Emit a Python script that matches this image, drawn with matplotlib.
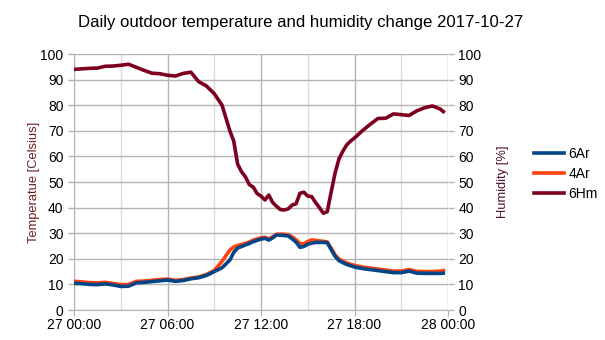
import matplotlib
matplotlib.use("Agg")
import matplotlib.pyplot as plt
import matplotlib.dates as mdates
import pandas as pd

plt.rcParams['font.family'] = ['Liberation Sans', 'DejaVu Sans']

times = ["00:00", "00:30", "01:00", "01:30", "02:00", "02:30", "03:00", "03:30",
         "04:00", "04:30", "05:00", "05:30", "06:00", "06:30", "07:00", "07:30",
         "08:00", "08:30", "09:00", "09:30", "10:00", "10:15", "10:30", "10:45",
         "11:00", "11:15", "11:30", "11:45", "12:00", "12:15", "12:30", "12:45",
         "13:00", "13:15", "13:30", "13:45", "14:00", "14:15", "14:30", "14:45",
         "15:00", "15:15", "15:30", "15:45", "16:00", "16:15", "16:30", "16:45",
         "17:00", "17:15", "17:30", "17:45", "18:00", "18:30", "19:00", "19:30",
         "20:00", "20:30", "21:00", "21:30", "22:00", "22:30", "23:00", "23:30", "23:42"]

t6ar = [10.4, 10.3, 10.0, 9.9, 10.2, 9.8, 9.2, 9.3,
        10.6, 10.8, 11.1, 11.4, 11.7, 11.2, 11.5, 12.2,
        12.6, 13.5, 15.0, 16.5, 19.5, 22.5, 24.2, 24.8,
        25.4, 26.0, 26.7, 27.2, 27.7, 28.0, 27.3, 28.2,
        29.3, 29.2, 29.1, 28.9, 27.8, 26.5, 24.5, 24.8,
        25.7, 26.1, 26.4, 26.4, 26.4, 26.3, 23.6, 21.0,
        19.3, 18.5, 17.8, 17.3, 16.8, 16.2, 15.8, 15.4,
        15.0, 14.6, 14.6, 15.2, 14.4, 14.3, 14.3, 14.3, 14.4]

t4ar = [11.2, 11.0, 10.7, 10.6, 10.8, 10.4, 9.9, 10.0,
        11.2, 11.3, 11.6, 11.9, 12.1, 11.6, 11.9, 12.5,
        12.9, 13.9, 15.4, 19.0, 23.4, 24.6, 25.2, 25.6,
        26.0, 26.6, 27.3, 27.8, 28.2, 28.4, 27.8, 28.6,
        29.6, 29.6, 29.6, 29.4, 28.6, 27.5, 26.0, 25.8,
        26.8, 27.4, 27.2, 27.0, 26.8, 26.6, 24.2, 21.6,
        19.9, 19.1, 18.4, 17.9, 17.4, 16.8, 16.4, 16.0,
        15.6, 15.2, 15.2, 15.8, 15.1, 15.0, 15.0, 15.2, 15.4]

h6hm = [94.0, 94.2, 94.4, 94.5, 95.2, 95.3, 95.6, 96.0,
        94.8, 93.6, 92.5, 92.3, 91.7, 91.4, 92.4, 92.9,
        89.2, 87.5, 84.5, 80.0, 70.0, 66.0, 57.0, 54.0,
        52.0, 49.0, 48.0, 45.5, 44.5, 43.0, 44.9, 42.0,
        40.5, 39.2, 39.1, 39.5, 41.0, 41.5, 45.6, 46.0,
        44.5, 44.3, 42.0, 40.0, 37.8, 38.4, 46.0, 53.4,
        59.0, 62.0, 64.5, 66.0, 67.2, 70.0, 72.5, 74.8,
        74.9, 76.6, 76.3, 76.0, 77.8, 79.0, 79.7, 78.5, 77.5]

x_ticks = ["2017-10-27 00:00", "2017-10-27 06:00", "2017-10-27 12:00",
           "2017-10-27 18:00", "2017-10-28 00:00"]
minor_ticks = ["2017-10-27 03:00", "2017-10-27 09:00", "2017-10-27 15:00",
               "2017-10-27 21:00"]

dt = pd.to_datetime(["2017-10-27 " + s for s in times])
xt = pd.to_datetime(x_ticks)
xm = pd.to_datetime(minor_ticks)

fig = plt.figure(figsize=(6.05, 3.40), dpi=100)
ax = fig.add_axes([74/605, 30/340, 374/605, 256/340])
ax2 = ax.twinx()

ax.plot(dt, t4ar, color='#ff420e', lw=2.6, label='4Ar', zorder=3)
ax.plot(dt, t6ar, color='#004586', lw=2.6, label='6Ar', zorder=4)
ax2.plot(dt, h6hm, color='#7e0021', lw=2.6, label='6Hm')

for a in (ax, ax2):
    a.set_ylim(0, 100)
    a.set_yticks(range(0, 101, 10))
    a.tick_params(axis='y', labelsize=10, length=4, color='#b3b3b3', width=1)
    for s in a.spines.values():
        s.set_visible(False)
ax.spines['left'].set_visible(True)
ax.spines['left'].set_color('#b3b3b3')
ax.spines['bottom'].set_visible(True)
ax.spines['bottom'].set_color('#b3b3b3')

ax.set_xlim(xt[0], xt[-1])
ax.set_xticks(xt)
ax.set_xticks(xm, minor=True)
ax.xaxis.set_major_formatter(mdates.DateFormatter('%d %H:%M'))
ax.tick_params(axis='x', labelsize=10, length=4, color='#b3b3b3', pad=2)
ax.tick_params(axis='x', which='minor', length=0)
ax.grid(True, which='major', color='#b3b3b3', lw=1)
ax.grid(True, which='minor', axis='x', color='#dddddd', lw=1)
ax.set_axisbelow(True)

lbl_color = '#6b1f1f'
ax.set_ylabel('Temperatue [Celsius]', fontsize=9.3, color=lbl_color, labelpad=0)
ax2.set_ylabel('Humidity [%]', fontsize=9.3, color='#4a1030', rotation=90, labelpad=11)

fig.suptitle('Daily outdoor temperature and humidity change 2017-10-27',
             fontsize=12.1, y=0.955, x=301/605)

h1, l1 = ax.get_legend_handles_labels()
h2, l2 = ax2.get_legend_handles_labels()
handles = [h1[1], h1[0], h2[0]]
labels = [l1[1], l1[0], l2[0]]
fig.legend(handles, labels, loc='upper left', bbox_to_anchor=(528/605, 1 - 141/340),
           frameon=False, fontsize=10, handlelength=2.2, handletextpad=0.3,
           labelspacing=0.45, borderaxespad=0)

fig.savefig('out.png', dpi=100)
